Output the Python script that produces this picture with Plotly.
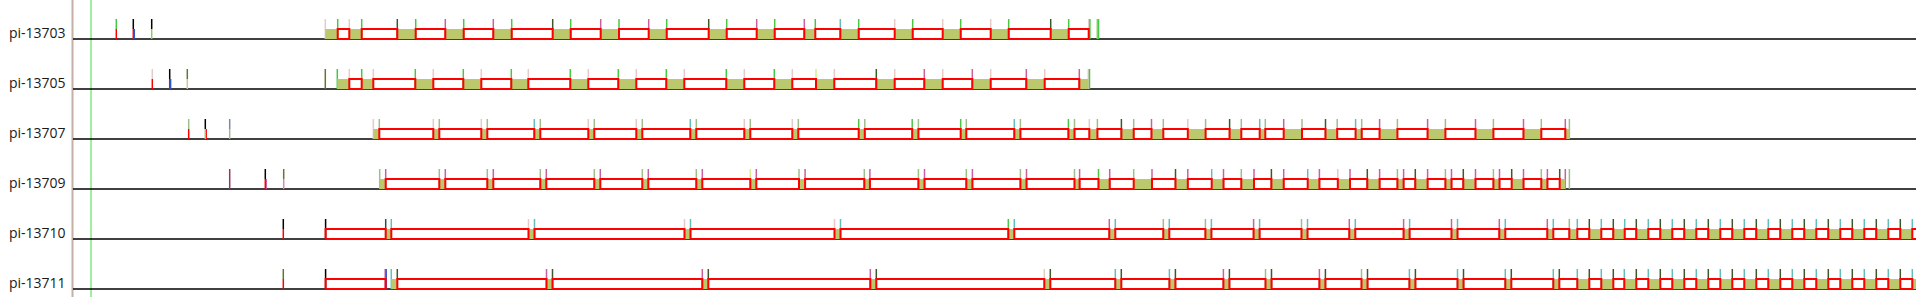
import plotly.graph_objects as go

# ---------------- data (x positions, in timeline units) ----------------
ROWS = ["pi-13703", "pi-13705", "pi-13707", "pi-13709", "pi-13710", "pi-13711"]

BOX_START_0 = [325.3, 349.3, 397.3, 445.3, 493.3, 552.7, 600.7, 648.7, 708.7, 756.7, 804.3, 840.3, 894.7, 942.7, 990.7, 1050.7]
BOX_END_0 = [337.7, 361.7, 415.7, 463.7, 511.7, 570.7, 619.0, 666.7, 726.7, 774.7, 815.3, 858.7, 912.7, 960.7, 1008.7, 1068.7]
START_KIND_0 = "PPDMMDMMDMMTPPPD"
END_KIND_0 = "G" * 16
RED_EXTRA_0 = [(1068.7, 1088.7)]
TICKS_0 = [(116.3, "G", "R"), (133.3, "K", "R"), (134.3, "", "B"), (151.7, "K", "L"),
           (1088.7, "P", "P"), (1089.9, "G", "G"), (1097.3, "L", "L"), (1098.5, "G", "G")]

BOX_START_1 = [337.3, 361.7, 415.3, 463.3, 511.3, 570.3, 618.3, 666.3, 726.3, 774.3, 816.0, 876.3, 924.3, 972.3, 1026.3, 1079.3]
BOX_END_1 = [349.3, 373.3, 433.3, 481.3, 528.3, 588.3, 636.3, 684.3, 744.3, 792.3, 834.3, 894.7, 942.7, 990.7, 1044.7, 1088.3]
START_KIND_1 = "GGGGGGGGGGYDMMMM"
END_KIND_1 = "P" * 16
RED_EXTRA_1 = []
TICKS_1 = [(152.3, "P", "R"), (169.7, "K", "R"), (170.6, "", "B"), (187.3, "O", "N"),
           (325.3, "O", "O"), (1089.5, "G", "G")]

BOX_START_2 = [373.3, 433.3, 481.3, 534.3, 588.3, 636.3, 690.3, 744.3, 792.3,
               858.7, 912.2, 960.7, 1014.3, 1068.4, 1089.3, 1121.4, 1151.5, 1187.8, 1229.6,
               1259.7, 1283.7, 1325.5, 1355.6, 1379.6, 1427.6, 1475.5, 1523.5, 1565.3]
BOX_END_2 = [379.3, 439.3, 487.3, 540.3, 594.3, 642.3, 696.3, 750.3, 798.3,
             864.8, 918.4, 966.3, 1020.4, 1074.5, 1097.4, 1133.7, 1163.3, 1205.6, 1241.3,
             1265.3, 1302.0, 1337.2, 1361.7, 1397.4, 1445.4, 1493.4, 1541.3, 1569.4]
START_KIND_2 = "PPPTPPTPP" + "GGGTG" + "PDMPD" + "TMDTM" + "MMMM"
END_KIND_2 = "S" * 28
RED_EXTRA_2 = []
TICKS_2 = [(188.7, "S", "R"), (205.3, "K", "S"), (206.2, "", "R"), (229.7, "V", "S")]

BOX_START_3 = [379.7, 439.3, 487.3, 540.3, 594.3, 642.3, 696.3, 750.3, 799.0,
               864.3, 918.4, 966.3, 1020.4, 1074.5, 1098.5, 1133.7, 1175.5, 1211.7, 1241.3,
               1271.4, 1307.7, 1337.8, 1367.3, 1397.4, 1415.3, 1445.4, 1463.3, 1493.4, 1511.7,
               1541.3, 1559.7]
BOX_END_3 = [385.7, 445.3, 493.3, 546.3, 600.3, 648.3, 702.3, 756.3, 805.1,
             869.9, 924.5, 972.4, 1026.5, 1079.6, 1109.7, 1152.0, 1187.8, 1223.5, 1254.0,
             1283.7, 1319.4, 1350.0, 1379.6, 1403.6, 1427.6, 1451.5, 1475.5, 1499.5, 1523.5,
             1547.4, 1565.3]
START_KIND_3 = "SSSSSSSYS" + "SSSSS" + "GSDTS" + "DTPDS" + "DSDSD" + "SD"
END_KIND_3 = "M" * 31
RED_EXTRA_3 = []
TICKS_3 = [(229.7, "U", "U"), (265.3, "K", "R"), (266.2, "", "M"), (283.7, "O", "H"), (1569.4, "S", "S")]

BOX_START_4 = [385.7, 528.5, 684.5, 834.5, 1008.3, 1109.3, 1163.3, 1205.4, 1253.6, 1301.5,
               1349.3, 1403.6, 1451.5, 1499.3, 1547.3, 1569.3,
               1589.3, 1613.3, 1636.3, 1660.3, 1684.3, 1708.3, 1732.3, 1756.3, 1780.3,
               1804.3, 1828.3, 1852.3, 1876.3, 1900.3]
BOX_END_4 = [391.3, 534.5, 690.5, 840.5, 1014.3, 1115.3, 1169.3, 1211.4, 1259.6, 1307.5,
             1355.3, 1409.6, 1457.5, 1505.3, 1553.3, 1577.3,
             1601.3, 1624.7, 1648.3, 1672.3, 1696.3, 1720.3, 1744.3, 1768.3, 1792.3,
             1816.3, 1840.3, 1864.3, 1888.3, 1912.3]
START_KIND_4 = "APPPG" + "MSSMS" + "MMMMM" + "S" + "D" * 14
END_KIND_4 = "T" * 30
RED_EXTRA_4 = [(325.6, 385.7), (1912.3, 1935.0)]
TICKS_4 = [(283.3, "K", "R"), (325.6, "K", "K")]

BOX_START_5 = [391.3, 546.5, 702.3, 870.3, 1044.3, 1115.3, 1169.4, 1223.4, 1265.5, 1319.4,
               1361.5, 1409.4, 1457.5, 1505.3, 1553.3, 1577.3, 1601.3, 1624.3, 1648.3, 1672.3,
               1696.3, 1720.3, 1744.3, 1768.3, 1792.3, 1816.3, 1840.3, 1864.3, 1888.3, 1912.3]
BOX_END_5 = [397.3, 552.5, 708.3, 876.3, 1050.3, 1121.3, 1175.4, 1229.4, 1271.5, 1325.4,
             1367.5, 1415.4, 1463.5, 1511.3, 1559.3, 1589.3, 1613.3, 1636.3, 1660.3, 1684.3,
             1708.3, 1732.3, 1756.3, 1780.3, 1804.3, 1828.3, 1852.3, 1876.3, 1900.3, 1924.3]
START_KIND_5 = "TMMMP" + "TTMSM" + "STTTT" + "T" * 15
END_KIND_5 = "D" * 30
RED_EXTRA_5 = [(325.6, 385.7)]
TICKS_5 = [(283.3, "O", "R"), (325.6, "K", "K"), (385.2, "M", "M"), (386.2, "B", "B")]

MARKER_X = 91.0      # green marker line
SPLIT_X = 72.5       # left separator
X_MAX = 1916.0

# ---------------- styles ----------------
KIND_COLORS = {
    "P": "#e6c9c9", "G": "#44c944", "D": "#3b5a2c", "M": "#cc5f9f", "T": "#5fbfbf",
    "S": "#9dbf8a", "K": "#000000", "R": "#ff0000", "B": "#3355cc", "Y": "#d9ec8e",
    "O": "#5a7a30", "N": "#d4c49c", "V": "#7a88b0", "U": "#993366", "A": "#2f4f4f",
    "L": "#88cc66", "H": "#d88aaa",
}
FILL = "#bbc96c"
Y_TOP, Y_BOT = -0.78, 5.16
BOX_H, TICK_H = 0.2, 0.4

rows = [
    (BOX_START_0, BOX_END_0, START_KIND_0, END_KIND_0, RED_EXTRA_0, TICKS_0),
    (BOX_START_1, BOX_END_1, START_KIND_1, END_KIND_1, RED_EXTRA_1, TICKS_1),
    (BOX_START_2, BOX_END_2, START_KIND_2, END_KIND_2, RED_EXTRA_2, TICKS_2),
    (BOX_START_3, BOX_END_3, START_KIND_3, END_KIND_3, RED_EXTRA_3, TICKS_3),
    (BOX_START_4, BOX_END_4, START_KIND_4, END_KIND_4, RED_EXTRA_4, TICKS_4),
    (BOX_START_5, BOX_END_5, START_KIND_5, END_KIND_5, RED_EXTRA_5, TICKS_5),
]

tick_segs = {}   # kind -> (xs, ys)
def add_seg(kind, x, y0, y1):
    if not kind:
        return
    xs, ys = tick_segs.setdefault(kind, ([], []))
    xs += [x, x, None]
    ys += [y0, y1, None]

gx, gy, rx, ry = [], [], [], []
base_x, base_y = [], []
for r, (bs, be, sk, ek, rext, ticks) in enumerate(rows):
    base_x += [SPLIT_X + 0.5, X_MAX, None]
    base_y += [r, r, None]
    for k, (s, e) in enumerate(zip(bs, be)):
        gx += [s, e, e, s, s, None]
        gy += [r, r, r - BOX_H, r - BOX_H, r, None]
        add_seg(sk[k], s, r - TICK_H, r)
        add_seg(ek[k], e, r - TICK_H, r)
    reds = [(be[k], bs[k + 1]) for k in range(len(bs) - 1) if bs[k + 1] - be[k] > 0.5] + list(rext)
    for s, e in reds:
        rx += [s, e, e, s, s, None]
        ry += [r, r, r - BOX_H, r - BOX_H, r, None]
    for x, top, bot in ticks:
        add_seg(top, x, r - TICK_H, r - BOX_H)
        add_seg(bot, x, r - BOX_H, r)

fig = go.Figure()
fig.add_trace(go.Scatter(x=[SPLIT_X, SPLIT_X], y=[Y_TOP, Y_BOT], mode="lines",
                         line=dict(color="#c4b0a6", width=2), hoverinfo="skip"))
fig.add_trace(go.Scatter(x=[MARKER_X, MARKER_X], y=[Y_TOP, Y_BOT], mode="lines",
                         line=dict(color="#44dd44", width=1), hoverinfo="skip"))
fig.add_trace(go.Scatter(x=base_x, y=base_y, mode="lines",
                         line=dict(color="#000000", width=1.5), hoverinfo="skip"))
for kind, (xs, ys) in tick_segs.items():
    fig.add_trace(go.Scatter(x=xs, y=ys, mode="lines",
                             line=dict(color=KIND_COLORS[kind], width=1.5), hoverinfo="skip"))
fig.add_trace(go.Scatter(x=gx, y=gy, mode="lines", fill="toself", fillcolor=FILL,
                         line=dict(width=0, color=FILL), hoverinfo="skip"))
fig.add_trace(go.Scatter(x=rx, y=ry, mode="lines",
                         line=dict(color="#ff0000", width=2), hoverinfo="skip"))

for r, name in enumerate(ROWS):
    fig.add_annotation(x=7, y=r - 0.13, text=name, showarrow=False, xanchor="left",
                       yanchor="middle", font=dict(family="Open Sans", size=14, color="#1a1a1a"))

fig.update_layout(
    width=1916, height=297, margin=dict(l=0, r=0, t=0, b=0),
    paper_bgcolor="white", plot_bgcolor="white", showlegend=False,
    xaxis=dict(range=[0, X_MAX], visible=False, fixedrange=True),
    yaxis=dict(range=[Y_BOT, Y_TOP], visible=False, fixedrange=True),
)
fig.write_html("out.html")
